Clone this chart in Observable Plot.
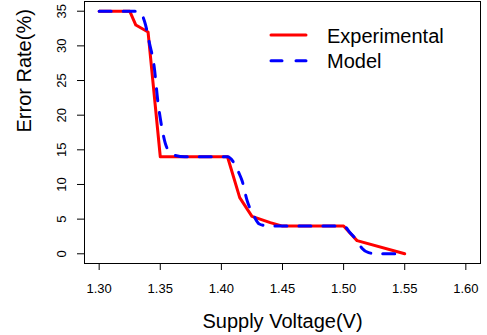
<!DOCTYPE html>
<html>
<head>
<meta charset="utf-8">
<script src="https://cdn.jsdelivr.net/npm/d3@7"></script>
<script src="https://cdn.jsdelivr.net/npm/@observablehq/plot@0.6"></script>
<style>
  html, body { margin: 0; padding: 0; background: #fff; }
  #chart svg { display: block; }
</style>
</head>
<body>
<div id="chart"></div>
<script>
// Measured error rate vs. supply voltage
const expVoltage = [1.30, 1.325, 1.33, 1.34, 1.35, 1.405, 1.415, 1.425, 1.44, 1.45, 1.50, 1.511, 1.55];
const expError   = [35,   35,    33,   32,   14,   14,    8.1,   5.4,   4.5,  4.0,  4.0,  1.9,   0];

// Model prediction (smooth steps)
const modelVoltage = [1.30, 1.332, 1.335, 1.338, 1.341, 1.345, 1.348, 1.351, 1.354, 1.357, 1.362, 1.37,
                      1.405, 1.41, 1.414, 1.417, 1.421, 1.4265, 1.431, 1.437, 1.445,
                      1.50, 1.5055, 1.511, 1.515, 1.52, 1.527, 1.55];
const modelError   = [35,   35,    34.5,  33,    30.5,  27,    22,    18.5,  16,    14.8,  14.2,  14,
                      14,    13.2, 11.8,  10.5,  7.7,   5.5,    4.3,   4.05,  4,
                      4,    3.0,    1.9,   0.8,   0.2,  0,     0];

const xTicks = [1.30, 1.35, 1.40, 1.45, 1.50, 1.55, 1.60];
const yTicks = [0, 5, 10, 15, 20, 25, 30, 35];
const xTitle = "Supply Voltage(V)";
const yTitle = "Error Rate(%)";
const seriesNames = ["Experimental", "Model"];
const seriesColors = ["#ff0000", "#0000ff"];

const experimental = expVoltage.map((v, i) => ({v, e: expError[i]}));
const model = modelVoltage.map((v, i) => ({v, e: modelError[i]}));

const font = "'Liberation Sans', Arial, Helvetica, sans-serif";

const chart = Plot.plot({
  width: 487,
  height: 335,
  marginLeft: 84,
  marginRight: 7,
  marginTop: 1,
  marginBottom: 72,
  style: {fontFamily: font, background: "#fff", color: "#000"},
  x: {domain: [1.288, 1.612]},
  y: {domain: [-1.4, 36.4]},
  marks: [
    Plot.axisX({
      ticks: xTicks, tickSize: 7, tickPadding: 13, fontSize: 13,
      tickFormat: d3.format(".2f"), label: null, stroke: "#000"
    }),
    Plot.axisY({
      ticks: yTicks, tickSize: 7, tickFormat: () => "", label: null, stroke: "#000"
    }),
    // rotated y tick labels
    Plot.text(yTicks, {
      y: d => d, text: d => String(d), frameAnchor: "left", rotate: -90,
      dx: -23, textAnchor: "middle", lineAnchor: "middle", fontSize: 13, fill: "#000"
    }),
    Plot.text([xTitle], {frameAnchor: "bottom", dy: 58, lineAnchor: "middle", fontSize: 20, fill: "#000"}),
    Plot.text([yTitle], {frameAnchor: "left", rotate: -90, dx: -60, lineAnchor: "middle", fontSize: 20, fill: "#000"}),
    Plot.line(experimental, {
      x: "v", y: "e", stroke: seriesColors[0], strokeWidth: 3,
      strokeLinejoin: "round", strokeLinecap: "round"
    }),
    Plot.line(model, {
      x: "v", y: "e", stroke: seriesColors[1], strokeWidth: 3, curve: "monotone-x",
      strokeDasharray: "12,12", strokeLinecap: "round", strokeLinejoin: "round"
    }),
    Plot.frame({stroke: "#000", strokeWidth: 1})
  ]
});

document.getElementById("chart").appendChild(chart);

// Legend in the upper right of the plot area
const svg = d3.select(chart);
const legend = svg.append("g")
  .attr("font-family", font)
  .attr("font-size", 20)
  .attr("text-anchor", "start");
seriesNames.forEach((name, i) => {
  const y = 35 + i * 25.7;
  legend.append("line")
    .attr("x1", 271).attr("x2", 306).attr("y1", y).attr("y2", y)
    .attr("stroke", seriesColors[i]).attr("stroke-width", 3)
    .attr("stroke-linecap", "round")
    .attr("stroke-dasharray", i === 1 ? "11,14" : null);
  legend.append("text")
    .attr("x", 327).attr("y", y + 7.5)
    .attr("fill", "#000")
    .text(name);
});
</script>
</body>
</html>
